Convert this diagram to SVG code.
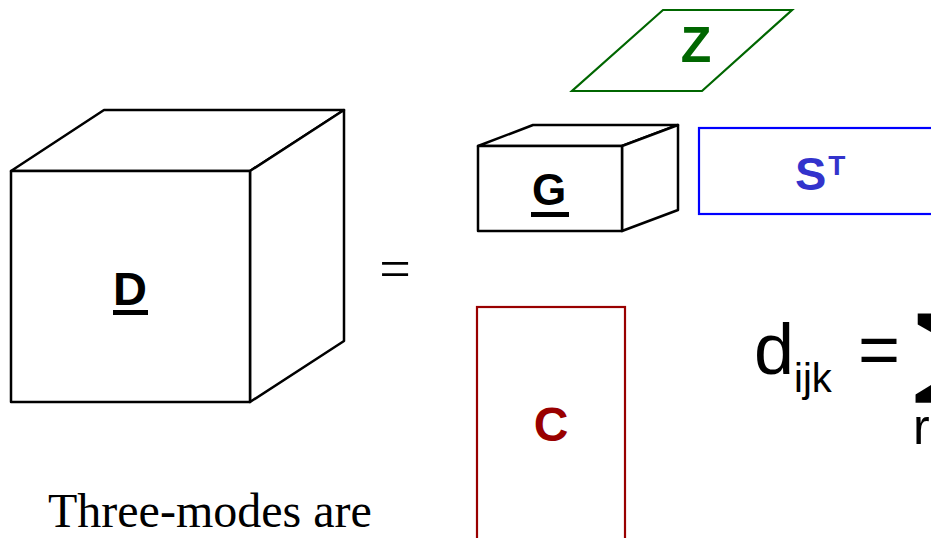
<svg xmlns="http://www.w3.org/2000/svg" width="931" height="538" viewBox="0 0 931 538">
<style>
.box{fill:#fff;stroke:#000;stroke-width:2.5;stroke-linejoin:round}
.lbl{font-family:"Liberation Sans",Arial,sans-serif;font-weight:bold;text-anchor:middle}
.serif{font-family:"Liberation Serif","Times New Roman",serif}
.sans{font-family:"Liberation Sans",Arial,sans-serif}
</style>
<rect width="931" height="538" fill="#fff"/>
<g id="D">
<polygon class="box" points="11,171 104,110 344,110 250,171"/>
<polygon class="box" points="250,171 344,110 344,341 250,402"/>
<rect class="box" x="11" y="171" width="239" height="231"/>
<text class="lbl" x="130" y="305" font-size="47">D</text>
<rect x="113" y="310" width="35" height="5" fill="#000"/>
</g>
<g id="eq">
<text class="serif" x="395" y="288" font-size="56" text-anchor="middle">=</text>
</g>
<g id="Z">
<polygon points="663,10 792,10 702,91 572,91" fill="none" stroke="#006600" stroke-width="2.2"/>
<text class="lbl" x="696" y="62" font-size="50" fill="#006600">Z</text>
</g>
<g id="G">
<polygon class="box" points="478,146 533,125 678,125 622,146"/>
<polygon class="box" points="622,146 678,125 678,210 622,231"/>
<rect class="box" x="478" y="146" width="144" height="85"/>
<text class="lbl" x="549" y="205" font-size="44">G</text>
<rect x="531" y="212" width="38" height="5" fill="#000"/>
</g>
<g id="S">
<rect x="699" y="128" width="250" height="86" fill="none" stroke="#0000ff" stroke-width="2.2"/>
<text class="sans" x="795" y="190" font-size="47" font-weight="bold" fill="#3333cc">S<tspan font-size="28" dx="2" dy="-15">T</tspan></text>
</g>
<g id="C">
<rect x="477" y="307" width="148" height="250" fill="none" stroke="#990000" stroke-width="2.2"/>
<text class="lbl" x="551" y="441" font-size="48" fill="#990000">C</text>
</g>
<g id="formula">
<text class="sans" x="754" y="374" font-size="72">d<tspan font-size="40" dy="18">ijk</tspan></text>
<text class="sans" x="858" y="374" font-size="72">=</text>
<text transform="translate(912,384) scale(1.8,1)" font-size="98" font-family="DejaVu Sans, sans-serif" font-weight="bold">∑</text>
<text class="sans" x="913" y="444" font-size="50">r</text>
</g>
<text class="serif" x="48" y="527" font-size="48">Three-modes are</text>
</svg>
